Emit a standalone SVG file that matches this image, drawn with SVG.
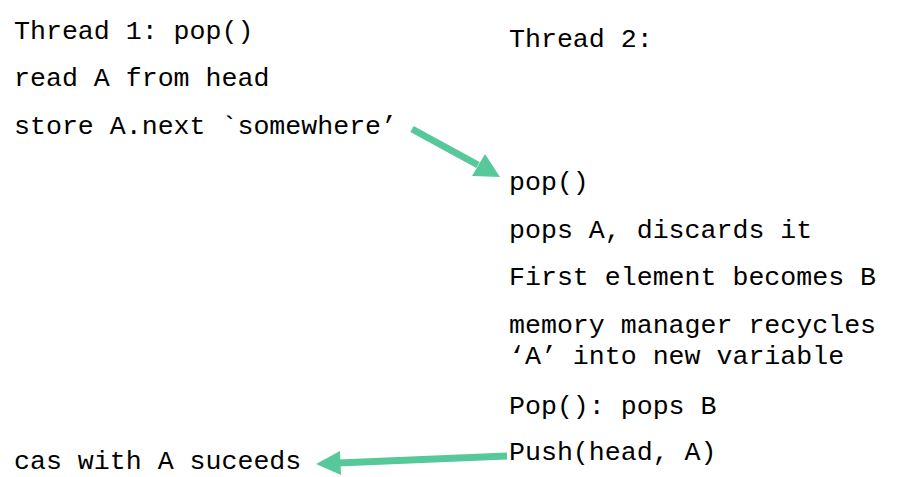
<svg xmlns="http://www.w3.org/2000/svg" width="904" height="477" viewBox="0 0 904 477">
<style>
text{font-family:"Liberation Mono","Courier New",monospace;font-size:26.6px;fill:#000}
.c{stroke:#57C89A;stroke-width:7;fill:none}
.h{fill:#57C89A}
</style>
<rect width="904" height="477" fill="#fff"/>
<g id="thread1">
<text x="14" y="39">Thread 1: pop()</text>
<text x="14" y="86">read A from head</text>
<text x="14" y="134">store A.next `somewhere’</text>
<text x="14" y="469">cas with A suceeds</text>
</g>
<g id="thread2">
<text x="509" y="47">Thread 2:</text>
<text x="509" y="190">pop()</text>
<text x="509" y="238">pops A, discards it</text>
<text x="509" y="285">First element becomes B</text>
<text x="509" y="333">memory manager recycles</text>
<text x="509" y="364">‘A’ into new variable</text>
<text x="509" y="414">Pop(): pops B</text>
<text x="509" y="460">Push(head, A)</text>
</g>
<g id="connectors">
<line class="c" x1="412" y1="129" x2="478" y2="165"/>
<polygon class="h" points="500,177 472,176 485,154"/>
<line class="c" x1="507" y1="456" x2="338" y2="463"/>
<polygon class="h" points="316,464 340,451 341,475"/>
</g>
</svg>
